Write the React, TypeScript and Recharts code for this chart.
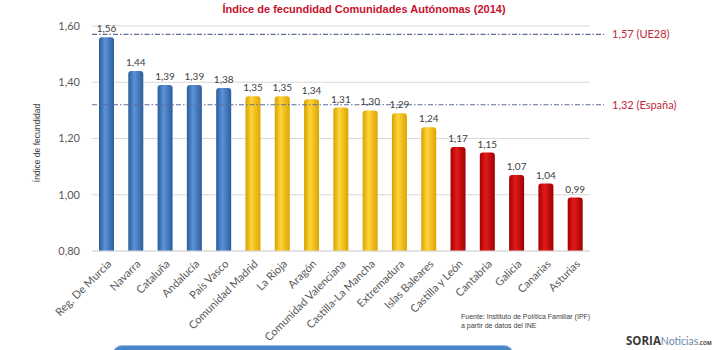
import React from "react";
import {
  BarChart,
  Bar,
  XAxis,
  YAxis,
  CartesianGrid,
  Cell,
  LabelList,
  ReferenceLine,
  Label,
} from "recharts";

// Comunidades and their fertility index (2014)
const regions = [
  "Reg. De Murcia",
  "Navarra",
  "Cataluña",
  "Andalucía",
  "País Vasco",
  "Comunidad Madrid",
  "La Rioja",
  "Aragón",
  "Comunidad Valenciana",
  "Castilla-La Mancha",
  "Extremadura",
  "Islas Baleares",
  "Castilla y León",
  "Cantabria",
  "Galicia",
  "Canarias",
  "Asturias",
];
const fertility = [1.56, 1.44, 1.39, 1.39, 1.38, 1.35, 1.35, 1.34, 1.31, 1.3, 1.29, 1.24, 1.17, 1.15, 1.07, 1.04, 0.99];
// which colour group each bar belongs to
const groups = ["blue", "blue", "blue", "blue", "blue", "yellow", "yellow", "yellow", "yellow", "yellow", "yellow", "yellow", "red", "red", "red", "red", "red"];
const yTicks = [0.8, 1.0, 1.2, 1.4, 1.6];
const refUE = 1.57;
const refSpain = 1.32;

const chartData = regions.map((name, i) => ({ name, value: fertility[i], group: groups[i] }));

const fmt = (v: number) => v.toFixed(2).replace(".", ",");

const refShape = (p: any) => (
  <line x1={p.x1} y1={p.y1} x2={p.x2 + 14} y2={p.y2} stroke="#5d6b99" strokeWidth={1.2} strokeDasharray="5 2 1.5 2" />
);

const App: React.FC = () => {
  return (
    <div style={{ position: "absolute", left: 0, top: 0, width: 714, height: 350, background: "#fff", overflow: "hidden" }}>
      <div
        style={{
          position: "absolute",
          top: 3,
          left: 0,
          width: 728,
          textAlign: "center",
          fontFamily: "Liberation Sans, Arial, sans-serif",
          fontWeight: "bold",
          fontSize: 11,
          color: "#c8102e",
        }}
      >
        Índice de fecundidad Comunidades Autónomas (2014)
      </div>
      <BarChart
        width={714}
        height={350}
        data={chartData}
        margin={{ top: 26, right: 124, bottom: 69, left: 0 }}
        barSize={15}
      >
        <defs>
          <linearGradient id="gBlue" x1="0" y1="0" x2="1" y2="0">
            <stop offset="0%" stopColor="#2b5a98" />
            <stop offset="40%" stopColor="#5a93d8" />
            <stop offset="100%" stopColor="#2c5d9c" />
          </linearGradient>
          <linearGradient id="gYellow" x1="0" y1="0" x2="1" y2="0">
            <stop offset="0%" stopColor="#d9a100" />
            <stop offset="40%" stopColor="#ffd43a" />
            <stop offset="100%" stopColor="#dba500" />
          </linearGradient>
          <linearGradient id="gRed" x1="0" y1="0" x2="1" y2="0">
            <stop offset="0%" stopColor="#a30000" />
            <stop offset="40%" stopColor="#e21a1a" />
            <stop offset="100%" stopColor="#a00000" />
          </linearGradient>
        </defs>
        <CartesianGrid vertical={false} stroke="#d9d9d9" />
        <XAxis
          dataKey="name"
          interval={0}
          height={30}
          angle={-45}
          textAnchor="end"
          tickLine={false}
          axisLine={{ stroke: "#d9d9d9" }}
          tickSize={0}
          tickMargin={8}
          tick={{ fontSize: 11, fill: "#595959", fontFamily: "Lato, sans-serif" }}
        />
        <YAxis
          width={92}
          domain={[0.8, 1.6]}
          ticks={yTicks}
          tickFormatter={fmt}
          axisLine={false}
          tickLine={false}
          tickSize={0}
          tickMargin={12}
          tick={{ fontSize: 11, fill: "#595959", fontFamily: "Lato, sans-serif" }}
        >
          <Label
            content={() => (
              <text
                x={40}
                y={143}
                transform="rotate(-90 40 143)"
                textAnchor="middle"
                fontSize={8.5}
                fill="#404040"
                fontFamily="Liberation Sans, Arial, sans-serif"
              >
                Índice de fecundidad
              </text>
            )}
          />
        </YAxis>
        <ReferenceLine y={refUE} shape={refShape} ifOverflow="visible">
          <Label
            value="1,57 (UE28)"
            position="right"
            offset={22}
            fill="#c0283a"
            fontSize={11}
            fontFamily="Lato, sans-serif"
          />
        </ReferenceLine>
        <ReferenceLine y={refSpain} shape={refShape} ifOverflow="visible">
          <Label
            value="1,32 (España)"
            position="right"
            offset={22}
            fill="#c0283a"
            fontSize={11}
            fontFamily="Lato, sans-serif"
          />
        </ReferenceLine>
        <Bar dataKey="value" isAnimationActive={false} radius={[3, 3, 0, 0]}>
          {chartData.map((d, i) => (
            <Cell
              key={`cell-${i}`}
              fill={d.group === "blue" ? "url(#gBlue)" : d.group === "yellow" ? "url(#gYellow)" : "url(#gRed)"}
            />
          ))}
          <LabelList
            dataKey="value"
            position="top"
            offset={5}
            formatter={(v: any) => fmt(Number(v))}
            style={{ fontSize: 10, fill: "#404040", fontFamily: "Lato, sans-serif" }}
          />
        </Bar>
      </BarChart>
      <div
        style={{
          position: "absolute",
          left: 461,
          top: 312,
          fontFamily: "Liberation Sans, Arial, sans-serif",
          fontSize: 7,
          lineHeight: "9px",
          color: "#404040",
        }}
      >
        Fuente: Instituto de Política Familiar (IPF)
        <br />a partir de datos del INE
      </div>
      <div
        style={{
          position: "absolute",
          left: 112,
          top: 345,
          width: 400,
          height: 20,
          borderRadius: 10,
          background: "#4a86c8",
          border: "1px solid #9fc0e6",
        }}
      />
      <div
        style={{
          position: "absolute",
          left: 626,
          top: 332,
          whiteSpace: "nowrap",
          fontFamily: "Open Sans, sans-serif",
          lineHeight: "14px",
        }}
      >
        <span style={{ fontWeight: "bold", fontSize: 11.5, color: "#3a3a3a" }}>SORIA</span>
        <span style={{ fontFamily: "Lato, sans-serif", fontSize: 10.5, color: "#6a86a6" }}>Noticias</span>
        <span style={{ fontSize: 5, fontWeight: "bold", color: "#3a3a3a" }}>.COM</span>
      </div>
    </div>
  );
};

export default App;
